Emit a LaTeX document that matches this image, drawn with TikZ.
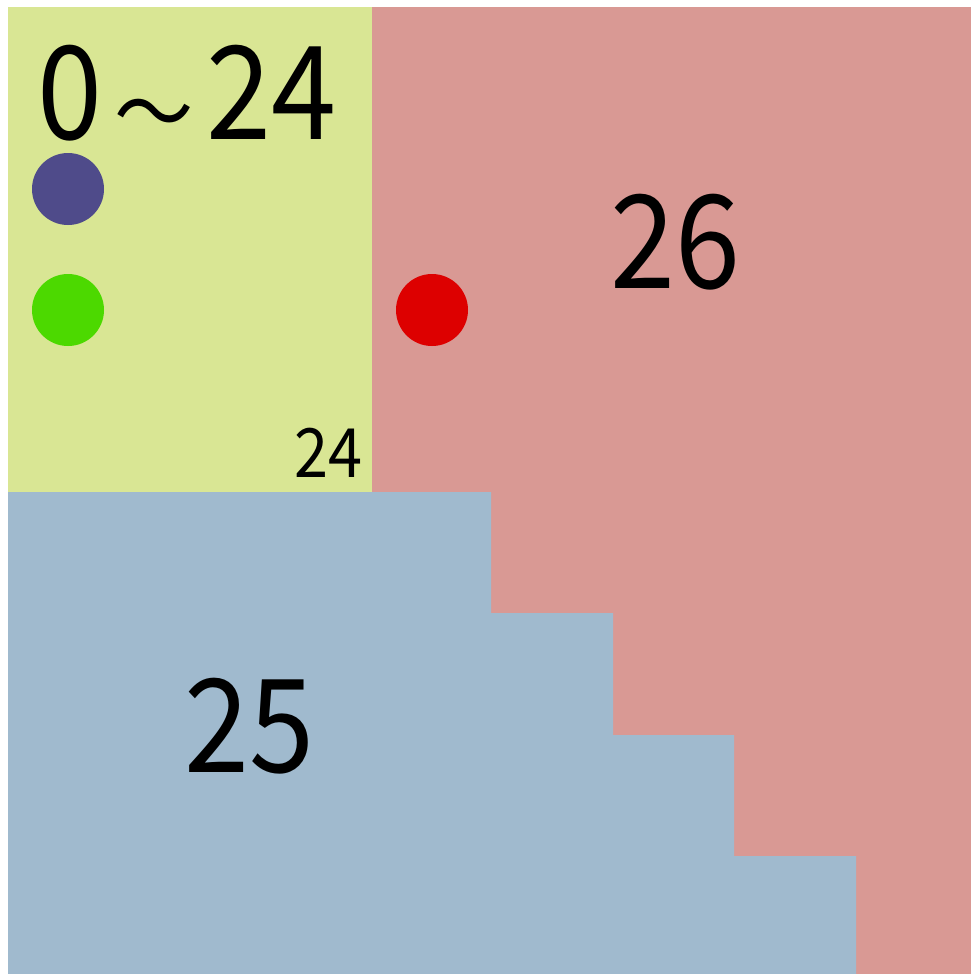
\documentclass[tikz,border=0pt]{standalone}
\usepackage{fontspec}
\setmainfont{Noto Sans CJK JP}
\definecolor{ygreen}{HTML}{D9E694}
\definecolor{pinkred}{HTML}{D99994}
\definecolor{greyblue}{HTML}{A0BACE}
\definecolor{dotpurple}{HTML}{4F4B8A}
\definecolor{dotgreen}{HTML}{4CD900}
\definecolor{dotred}{HTML}{DD0000}
\newcommand{\narrow}[1]{\scalebox{0.9}[1]{#1}}
\tikzset{
  dot/.style={circle, inner sep=0pt, minimum size=72pt},
  bignum/.style={inner sep=0pt, font=\fontsize{130}{130}\selectfont},
  smallnum/.style={inner sep=0pt, font=\fontsize{68}{68}\selectfont}
}
\begin{document}
\begin{tikzpicture}[x=1pt,y=-1pt]
\useasboundingbox (0,0) rectangle (971,974);
% regions
\fill[pinkred] (372,7) rectangle (971,974);
\fill[ygreen] (8,7) rectangle (372,492);
\fill[greyblue] (8,492) -- (491,492) -- (491,613) -- (613,613) -- (613,735) -- (734,735) -- (734,856) -- (856,856) -- (856,974) -- (8,974) -- cycle;
% dots
\node[dot, fill=dotpurple] (p) at (68,189) {};
\node[dot, fill=dotgreen] (g) at (68,310) {};
\node[dot, fill=dotred] (r) at (432,310) {};
% labels
\node[bignum] (t0) at (187,95) {\narrow{0\kern14pt\raisebox{-5pt}{\fontsize{88}{88}\selectfont～}\kern14pt24}};
\node[bignum] (t26) at (675,242) {\narrow{26}};
\node[bignum] (t25) at (249,726) {\narrow{25}};
\node[smallnum] (t24) at (328,453) {\narrow{24}};
\end{tikzpicture}
\end{document}
